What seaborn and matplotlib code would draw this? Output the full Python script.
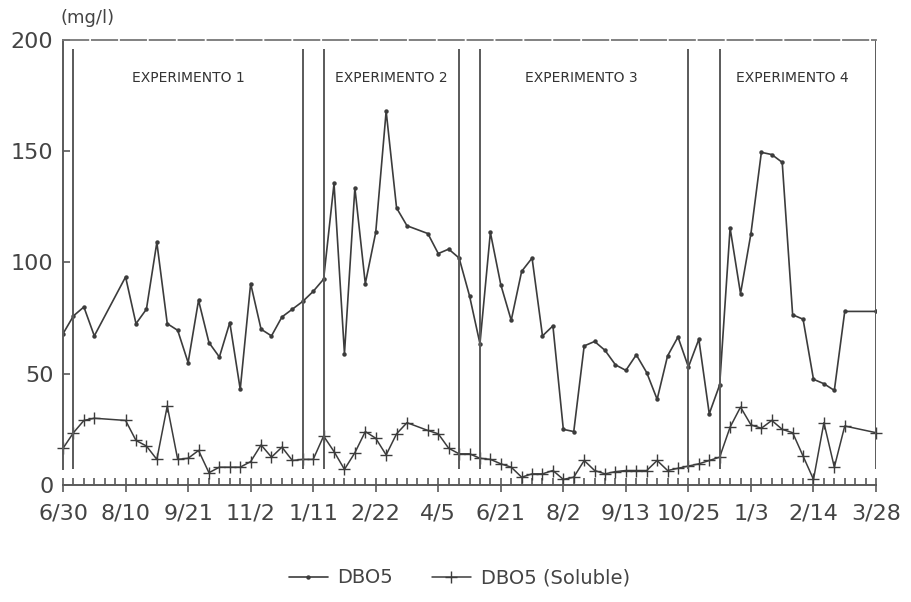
import numpy as np
import pandas as pd
import matplotlib
matplotlib.use("Agg")
import matplotlib.pyplot as plt
import seaborn as sns

# Sampling week (counted from 6/30) and values in mg/l
dbo5_week = [0, 1, 2, 3, 6, 7, 8, 9, 10, 11, 12, 13, 14, 15, 16, 17, 18, 19, 20, 21,
             22, 23, 24, 25, 26, 27, 28, 29, 30, 31, 32, 33, 35, 36, 37, 38, 39, 40,
             41, 42, 43, 44, 45, 46, 47, 48, 49, 50, 51, 52, 53, 54, 55, 56, 57, 58,
             59, 60, 61, 62, 63, 64, 65, 66, 67, 68, 69, 70, 71, 72, 73, 74, 75, 78]
dbo5_val = [68, 76, 80, 67, 93.5, 72.5, 79, 109, 72.5, 69.5, 55, 83, 64, 57.5, 73, 43,
            90.5, 70, 67, 75.5, 79, 82.5, 87, 92.5, 135.5, 59, 133.5, 90.5, 113.5, 168,
            124.5, 116.5, 113, 104, 106, 102, 85, 63.5, 113.5, 90, 74, 96, 102, 67,
            71.5, 25, 24, 62.5, 64.5, 60.5, 54, 51.5, 58.5, 50.5, 38.5, 58, 66.5, 53,
            65.5, 32, 45, 115.5, 86, 113, 149.5, 148.5, 145, 76.5, 74.5, 47.5, 45.5,
            42.5, 78, 78]

sol_week = [0, 1, 2, 3, 6, 7, 8, 9, 10, 11, 12, 13, 14, 15, 16, 17, 18, 19, 20, 21,
            22, 23, 24, 25, 26, 27, 28, 29, 30, 31, 32, 33, 35, 36, 37, 38, 39, 40,
            41, 42, 43, 44, 45, 46, 47, 48, 49, 50, 51, 52, 53, 54, 55, 56, 57, 58,
            59, 60, 61, 62, 63, 64, 65, 66, 67, 68, 69, 70, 71, 72, 73, 74, 75, 78]
sol_val = [16.5, 23.5, 29, 30, 29, 20, 17.5, 11.5, 35.5, 11.5, 12, 15.5, 5.5, 8, 8, 8,
           10.5, 18, 12.5, 17, 11, 11.5, 11.5, 22, 15, 7, 14.5, 24, 21, 13.5, 23, 28,
           24.5, 23, 16.5, 14, 14, 12, 11.5, 9.5, 8, 3.5, 5, 5, 6.5, 2.5, 3.5, 11, 6.5,
           5, 6, 6.5, 6.5, 6.5, 11, 6.5, 7.5, 8.5, 9.5, 11, 12.5, 26, 35, 27, 25.5, 29,
           25, 23.5, 13, 2.5, 28, 8, 26.5, 23.5]

tick_labels = ["6/30", "8/10", "9/21", "11/2", "1/11", "2/22", "4/5", "6/21",
               "8/2", "9/13", "10/25", "1/3", "2/14", "3/28"]

# Experiment boundaries (weeks) and titles
bounds = [1, 23, 25, 38, 40, 60, 63]
exp_names = ["EXPERIMENTO 1", "EXPERIMENTO 2", "EXPERIMENTO 3", "EXPERIMENTO 4"]
exp_centers = [12, 31.5, 49.7, 70]

sns.set_style("white")
plt.rcParams["font.family"] = ["DejaVu Sans"]

ink = "#3c3c3c"
gray = "#5a5a5a"

fig = plt.figure(figsize=(9.11, 6.02), dpi=100)
ax = fig.add_axes([0.0692, 0.1944, 0.8924, 0.7392])

df1 = pd.DataFrame({"week": dbo5_week, "val": dbo5_val})
df2 = pd.DataFrame({"week": sol_week, "val": sol_val})

sns.lineplot(data=df1, x="week", y="val", ax=ax, color=ink, lw=1.2,
             marker="o", markersize=3.2, markeredgewidth=0, markerfacecolor=ink,
             label="DBO5")
sns.lineplot(data=df2, x="week", y="val", ax=ax, color=ink, lw=1.1,
             marker="+", markersize=9, markeredgewidth=1.0, markeredgecolor=ink,
             label="DBO5 (Soluble)", clip_on=False)

# Experiment separators
ax.vlines(bounds, 7, 196, color=gray, lw=1.4)
ax.vlines([78], 7, 200, color=gray, lw=1.4)
for name, cx in zip(exp_names, exp_centers):
    ax.text(cx, 183, name, ha="center", va="center", fontsize=10, color="#333333")

ax.set_xlim(0, 78)
ax.set_ylim(0, 200)
ax.set_xlabel("")
ax.set_ylabel("")

ax.set_xticks(np.arange(0, 79, 6))
ax.set_xticklabels(tick_labels)
ax.set_xticks(np.arange(0, 79, 1), minor=True)
ax.set_yticks([0, 50, 100, 150, 200])

ax.tick_params(axis="x", which="major", direction="inout", length=10, width=1.2,
               color=gray, labelsize=16, labelcolor="#444444", pad=8)
ax.tick_params(axis="x", which="minor", direction="in", length=5, width=1.2, color=gray)
ax.tick_params(axis="y", which="major", direction="in", length=5, width=1.2,
               color=gray, labelsize=16, labelcolor="#444444", pad=7, left=True)
ax.tick_params(axis="x", bottom=True, which="both")

ax.spines["right"].set_visible(False)
ax.spines["left"].set_bounds(7, 200)
ax.spines["left"].set_color(gray)
ax.spines["left"].set_linewidth(1.4)
ax.spines["bottom"].set_color(gray)
ax.spines["bottom"].set_linewidth(1.4)
ax.spines["top"].set_color("#777777")
ax.spines["top"].set_linewidth(1.3)
ax.spines["top"].set_linestyle((0, (14, 2)))

fig.text(0.066, 0.970, "(mg/l)", fontsize=13, color="#444444", va="center", ha="left")

ax.get_legend().remove()
h, l = ax.get_legend_handles_labels()
fig.legend(h, l, loc="center", bbox_to_anchor=(0.504, 0.04), ncol=2, frameon=False,
           fontsize=14, handlelength=2.0, handletextpad=0.5, columnspacing=2.0,
           labelcolor="#444444")

fig.savefig("out.png", dpi=100)
